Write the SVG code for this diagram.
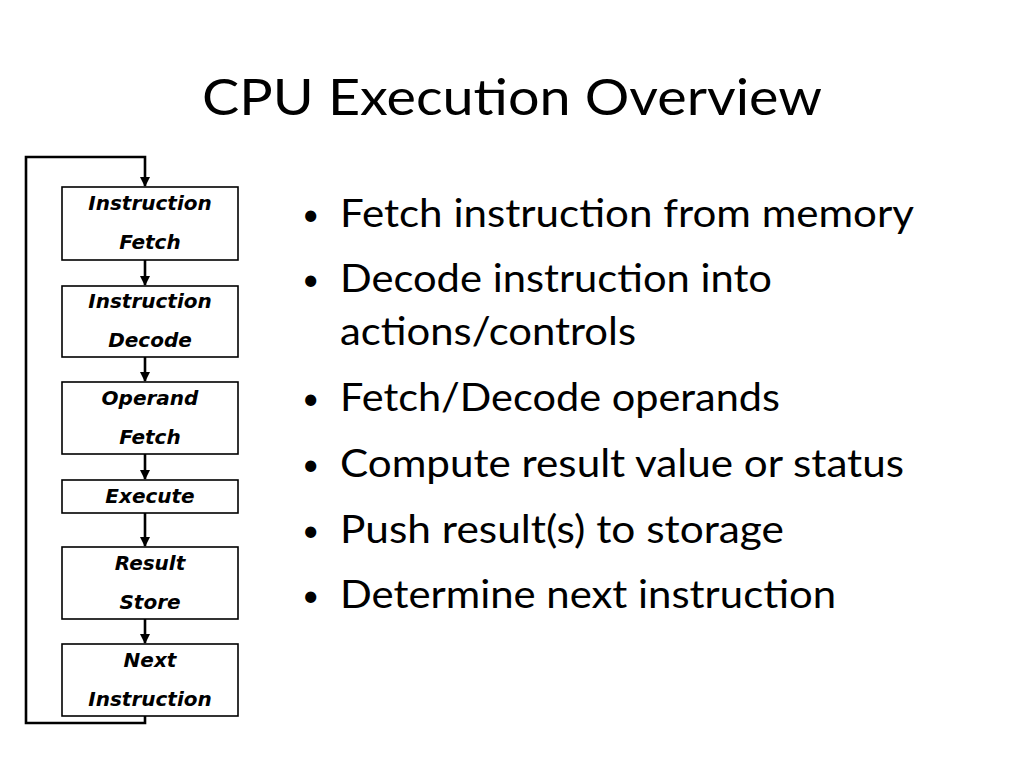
<svg xmlns="http://www.w3.org/2000/svg" width="1024" height="768" viewBox="0 0 1024 768">
<style>
.box{fill:#fff;stroke:#000;stroke-width:1.6}
.bt{font-family:"DejaVu Sans",sans-serif;font-weight:bold;font-style:italic;font-size:20px;text-anchor:middle;fill:#000}
.b{font-family:Lato,"Open Sans",sans-serif;font-size:38px;fill:#000}
.d{font-family:Lato,sans-serif;font-size:30px;fill:#000}
.c{fill:none;stroke:#000;stroke-width:2.6}
</style>
<defs><marker id="a" markerWidth="10" markerHeight="10" refX="9" refY="5" orient="auto" markerUnits="userSpaceOnUse" viewBox="0 0 10 10"><path d="M0,0 L10,5 L0,10 z" fill="#000"/></marker></defs>
<rect width="1024" height="768" fill="#fff"/>
<text x="512" y="115" font-family="Lato,'Open Sans',sans-serif" font-size="50" text-anchor="middle" textLength="620" lengthAdjust="spacingAndGlyphs">CPU Execution Overview</text>
<g id="connectors">
<path class="c" d="M145,716 V723 H26 V157 H145 V186" marker-end="url(#a)"/>
<path class="c" d="M145,260 V285" marker-end="url(#a)"/>
<path class="c" d="M145,357 V381" marker-end="url(#a)"/>
<path class="c" d="M145,454 V479" marker-end="url(#a)"/>
<path class="c" d="M145,513 V546" marker-end="url(#a)"/>
<path class="c" d="M145,619 V643" marker-end="url(#a)"/>
</g>
<g id="n1"><rect class="box" x="62" y="187" width="176" height="73"/><text class="bt" x="150" y="210">Instruction</text><text class="bt" x="150" y="249">Fetch</text></g>
<g id="n2"><rect class="box" x="62" y="286" width="176" height="71"/><text class="bt" x="150" y="308">Instruction</text><text class="bt" x="150" y="347">Decode</text></g>
<g id="n3"><rect class="box" x="62" y="382" width="176" height="72"/><text class="bt" x="150" y="405">Operand</text><text class="bt" x="150" y="444">Fetch</text></g>
<g id="n4"><rect class="box" x="62" y="480" width="176" height="33"/><text class="bt" x="150" y="503">Execute</text></g>
<g id="n5"><rect class="box" x="62" y="547" width="176" height="72"/><text class="bt" x="150" y="570">Result</text><text class="bt" x="150" y="609">Store</text></g>
<g id="n6"><rect class="box" x="62" y="644" width="176" height="72"/><text class="bt" x="150" y="667">Next</text><text class="bt" x="150" y="706">Instruction</text></g>
<g id="bullets">
<text class="d" x="302" y="225">•</text><text class="b" x="340" y="227" textLength="574" lengthAdjust="spacingAndGlyphs">Fetch instruction from memory</text>
<text class="d" x="302" y="290">•</text><text class="b" x="340" y="292" textLength="432" lengthAdjust="spacingAndGlyphs">Decode instruction into</text>
<text class="b" x="340" y="345" textLength="296" lengthAdjust="spacingAndGlyphs">actions/controls</text>
<text class="d" x="302" y="409">•</text><text class="b" x="340" y="411" textLength="440" lengthAdjust="spacingAndGlyphs">Fetch/Decode operands</text>
<text class="d" x="302" y="475">•</text><text class="b" x="340" y="477" textLength="564" lengthAdjust="spacingAndGlyphs">Compute result value or status</text>
<text class="d" x="302" y="541">•</text><text class="b" x="340" y="543" textLength="444" lengthAdjust="spacingAndGlyphs">Push result(s) to storage</text>
<text class="d" x="302" y="606">•</text><text class="b" x="340" y="608" textLength="496" lengthAdjust="spacingAndGlyphs">Determine next instruction</text>
</g>
</svg>
